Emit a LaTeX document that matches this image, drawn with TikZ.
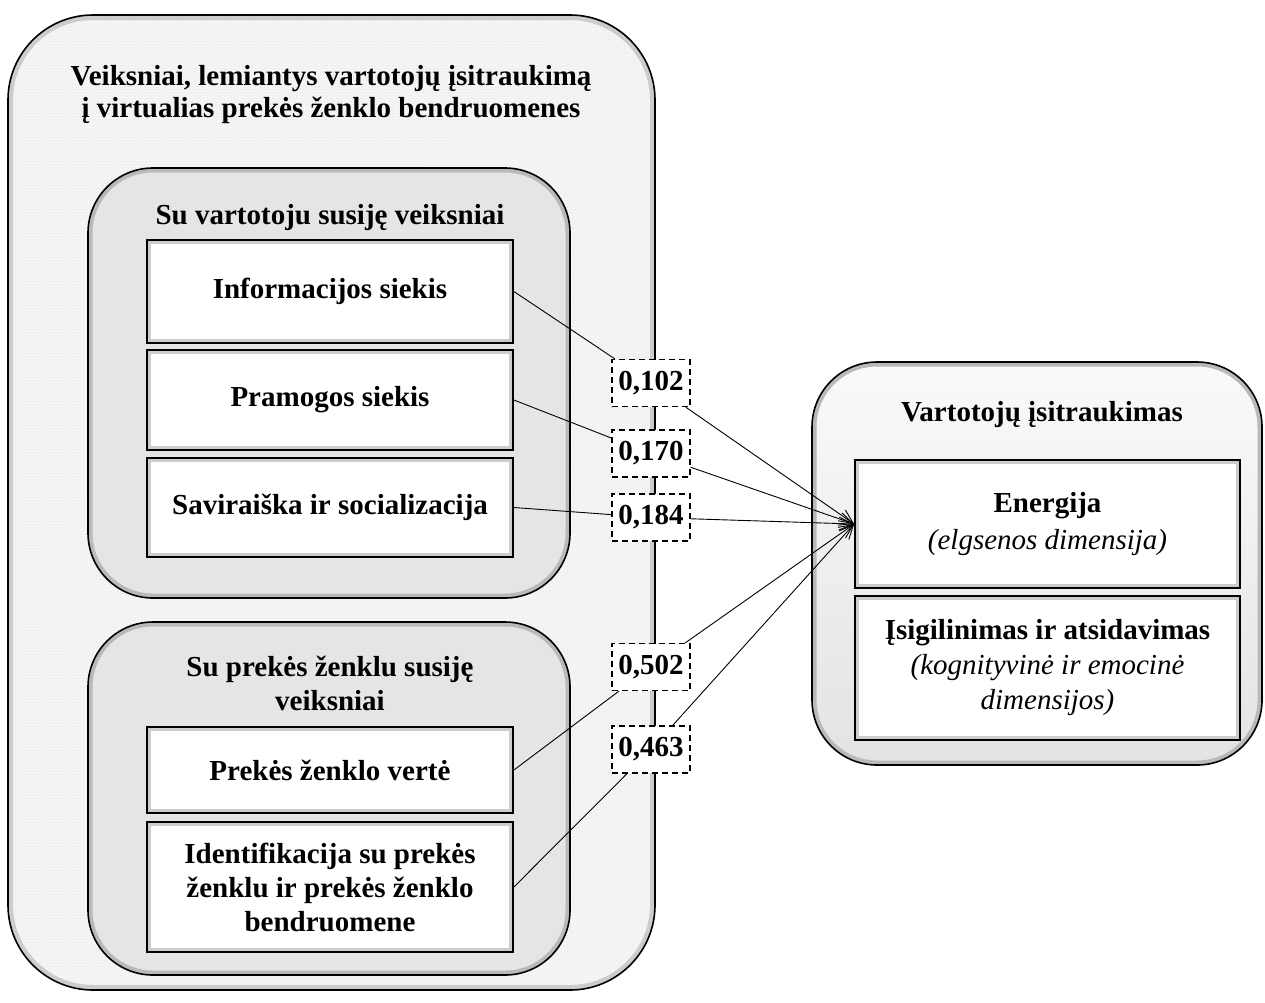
\documentclass[tikz,border=0pt]{standalone}
\usepackage{fontspec}
\setmainfont{Liberation Serif}
\usepackage{tikz}
\usetikzlibrary{arrows.meta}
\usetikzlibrary{patterns}
\tikzset{
  txt/.style={font=\fontsize{29}{34}\selectfont\bfseries, align=center},
  outerbox/.style={preaction={fill=gray!8}, pattern=dots, pattern color=gray!30,
    draw=black, line width=1.6pt, rounded corners=85pt, inner sep=0pt,
    path picture={\draw[gray!40, line width=10pt, rounded corners=85pt]
      (path picture bounding box.south west) rectangle (path picture bounding box.north east);}},
  groupbox/.style={fill=gray!20, draw=black, line width=1.6pt, rounded corners=65pt, inner sep=0pt,
    path picture={\draw[gray!55, line width=9pt, rounded corners=65pt]
      (path picture bounding box.south west) rectangle (path picture bounding box.north east);}},
  itembox/.style={txt, fill=white, draw=black, line width=1.8pt, inner sep=0pt,
    path picture={\draw[gray!40, line width=8pt]
      (path picture bounding box.south west) rectangle (path picture bounding box.north east);}},
  coefbox/.style={txt, fill=white, draw=black, line width=1.3pt, dash pattern=on 6pt off 4pt,
    minimum width=78pt, minimum height=47pt, inner sep=0pt},
  link/.style={black, line width=0.9pt},
}

\begin{document}
\begin{tikzpicture}[x=1pt, y=-1pt]
\useasboundingbox (0,0) rectangle (1265,1002);

% left side: factors
\node[outerbox, minimum width=647pt, minimum height=975pt] (outer) at (331.5,502.5) {};
\node[txt, font=\fontsize{29}{32}\selectfont\bfseries] (title) at (331,95) {Veiksniai, lemiantys vartotojų įsitraukimą\\ į virtualias prekės ženklo bendruomenes};

\node[groupbox, minimum width=482pt, minimum height=430pt] (userg) at (329,383) {};
\node[txt] (userh) at (330,218) {Su vartotoju susiję veiksniai};
\node[itembox, minimum width=366pt, minimum height=103pt] (info) at (330,291.5) {Informacijos siekis};
\node[itembox, minimum width=366pt, minimum height=100pt] (pram) at (330,400) {Pramogos siekis};
\node[itembox, minimum width=366pt, minimum height=99pt] (savi) at (330,507.5) {Saviraiška ir socializacija};

\node[groupbox, minimum width=482pt, minimum height=353pt] (brandg) at (329,798.5) {};
\node[txt] (brandh) at (330,683) {Su prekės ženklu susiję\\ veiksniai};
\node[itembox, minimum width=366pt, minimum height=86pt] (verte) at (330,770) {Prekės ženklo vertė};
\node[itembox, minimum width=366pt, minimum height=130pt] (ident) at (330,887) {Identifikacija su prekės\\ ženklu ir prekės ženklo\\ bendruomene};

% right side: engagement
\node[groupbox, top color=gray!4, bottom color=gray!22, minimum width=450pt, minimum height=403pt] (engg) at (1037,563.5) {};
\node[txt] (engh) at (1042,415) {Vartotojų įsitraukimas};
\node[itembox, font=\fontsize{29}{37}\selectfont, minimum width=385pt, minimum height=128pt] (energ) at (1047.5,524)
  {\textbf{Energija}\\ \textit{(elgsenos dimensija)}};
\node[itembox, font=\fontsize{29}{35}\selectfont, minimum width=385pt, minimum height=144pt] (isig) at (1047.5,668)
  {\textbf{Įsigilinimas ir atsidavimas}\\ \textit{(kognityvinė ir emocinė}\\ \textit{dimensijos)}};

% coefficients
\node[coefbox] (c102) at (651,383) {0,102};
\node[coefbox] (c170) at (651,453.5) {0,170};
\node[coefbox] (c184) at (651,517.5) {0,184};
\node[coefbox] (c502) at (651,667) {0,502};
\node[coefbox] (c463) at (651,749.5) {0,463};

\draw[link] (info.east) -- (c102);
\draw[link] (pram.east) -- (c170);
\draw[link] (savi.east) -- (c184);
\draw[link] (verte.east) -- (c502);
\draw[link] (ident.east) -- (c463);
\draw[link, -{Straight Barb[length=14pt, width=13pt]}] (c102) -- (energ.west);
\draw[link, -{Straight Barb[length=14pt, width=13pt]}] (c170) -- (energ.west);
\draw[link, -{Straight Barb[length=14pt, width=13pt]}] (c184) -- (energ.west);
\draw[link, -{Straight Barb[length=14pt, width=13pt]}] (c502) -- (energ.west);
\draw[link, -{Straight Barb[length=14pt, width=13pt]}] (c463) -- (energ.west);
\end{tikzpicture}
\end{document}
